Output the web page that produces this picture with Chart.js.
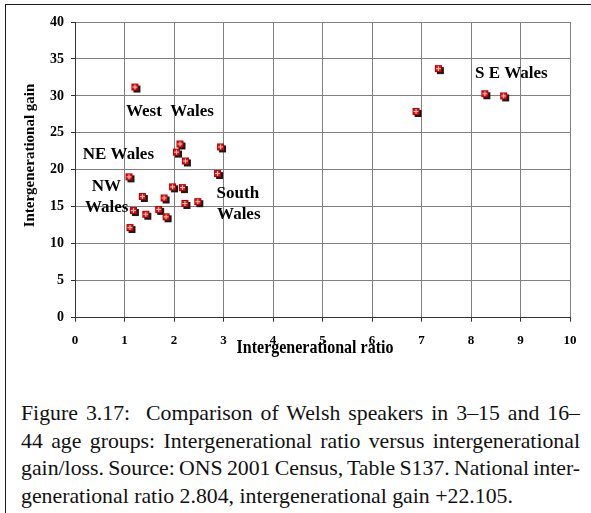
<!DOCTYPE html>
<html><head><meta charset="utf-8">
<script src="https://cdn.jsdelivr.net/npm/chart.js@4.4.1/dist/chart.umd.min.js"></script>
<style>
html,body{margin:0;padding:0;background:#fff;}
#wrap{position:relative;width:591px;height:513px;overflow:hidden;background:#fff;}
#frame{position:absolute;left:5px;top:4px;width:600px;height:600px;border-top:1px solid #1a1a1a;border-left:1px solid #1a1a1a;}
#cv{position:absolute;left:0;top:0;width:591px;height:370px;}
#cap{position:absolute;left:21px;top:400.4px;width:559px;font-family:"Liberation Serif",serif;font-size:21.8px;line-height:27.5px;color:#111;}
#cap div{text-align:justify;text-align-last:justify;word-spacing:-3px;}
#cap div.last{text-align-last:left;word-spacing:0;}
</style></head>
<body><div id="wrap"><div id="frame"></div><div id="cv"><canvas id="c"></canvas></div>
<div id="cap">
<div>Figure 3.17:&nbsp; Comparison of Welsh speakers in 3–15 and 16–</div>
<div>44 age groups: Intergenerational ratio versus intergenerational</div>
<div>gain/loss. Source: ONS 2001 Census, Table S137. National inter-</div>
<div class="last">generational ratio 2.804, intergenerational gain +22.105.</div>
</div></div>
<script>
// Data
const ratioValues = [1.21, 2.12, 2.05, 2.23, 2.94, 2.88, 1.09, 1.36, 1.18, 1.43, 1.11, 1.69, 1.84, 1.80, 1.97, 2.17, 2.22, 2.48, 7.34, 6.89, 8.28, 8.66];
const gainValues  = [31.2, 23.5, 22.4, 21.2, 23.1, 19.5, 19.05, 16.4, 14.5, 14.0, 12.2, 14.65, 13.65, 16.2, 17.7, 17.6, 15.45, 15.7, 33.7, 27.9, 30.3, 30.0];
const xTickValues = [0,1,2,3,4,5,6,7,8,9,10];
const yTickValues = [0,5,10,15,20,25,30,35,40];
const xTitle = 'Intergenerational ratio';
const yTitle = 'Intergenerational gain';
const regionNames = ['West  Wales', 'NE Wales', 'NW', 'Wales', 'South', 'Wales', 'S E Wales'];
const regionX = [1.03, 0.156, 0.337, 0.20, 2.86, 2.87, 8.08];
const regionY = [27.84, 22.03, 17.7, 14.86, 16.81, 14.01, 33.03];

// marker: red square with white cross and dark shadow
const mk = document.createElement('canvas');
mk.width = 13; mk.height = 13;
(function(){
  const g = mk.getContext('2d');
  g.fillStyle = '#1a1a1a';
  g.fillRect(5, 5, 7, 7);
  g.fillStyle = '#f01010';
  g.fillRect(3, 3, 7, 7);
  g.strokeStyle = '#b00000';
  g.lineWidth = 1;
  g.strokeRect(3.5, 3.5, 6, 6);
  g.strokeStyle = 'rgba(255,210,210,0.95)';
  g.beginPath();
  g.moveTo(6.5, 4); g.lineTo(6.5, 9);
  g.moveTo(4, 6.5); g.lineTo(9, 6.5);
  g.stroke();
})();

const points = ratioValues.map((v, i) => ({x: v, y: gainValues[i]}));

const annotatePlugin = {
  id: 'annot',
  afterDraw(chart) {
    const {ctx} = chart;
    const xs = chart.scales.x, ys = chart.scales.y;
    ctx.save();
    ctx.fillStyle = '#000';
    ctx.font = 'bold 17px "Liberation Serif"';
    ctx.textBaseline = 'middle';
    ctx.textAlign = 'left';
    regionNames.forEach((t, i) => ctx.fillText(t, xs.getPixelForValue(regionX[i]), ys.getPixelForValue(regionY[i])));
    ctx.save();
    ctx.font = 'bold 16px "Liberation Serif"';
    ctx.textAlign = 'center';
    ctx.textBaseline = 'alphabetic';
    ctx.translate(315, 353);
    ctx.scale(1, 1.18);
    ctx.fillText(xTitle, 0, 0);
    ctx.restore();
    ctx.translate(30.5, 155.5);
    ctx.rotate(-Math.PI / 2);
    ctx.font = 'bold 15px "Liberation Serif"';
    ctx.textAlign = 'center';
    ctx.textBaseline = 'middle';
    ctx.fillText(yTitle, 0, 0);
    ctx.restore();
  }
};

const tickFont = size => ({family: '"Liberation Serif"', size: size, weight: 'bold'});

new Chart(document.getElementById('c'), {
  type: 'scatter',
  data: {datasets: [{data: points, pointStyle: mk, pointRadius: 6.5, pointHoverRadius: 6.5}]},
  options: {
    animation: false, responsive: true, maintainAspectRatio: false, events: [],
    layout: {padding: {top: 22, right: 21, left: 0, bottom: 0}},
    plugins: {legend: {display: false}, tooltip: {enabled: false}},
    scales: {
      x: {
        type: 'linear', min: 0, max: 10,
        afterBuildTicks: s => { s.ticks = xTickValues.map(v => ({value: v})); },
        ticks: {padding: 11, font: tickFont(13), color: '#000', maxRotation: 0, autoSkip: false},
        grid: {color: '#808080', lineWidth: 1, tickLength: 4, tickColor: '#333'},
        border: {color: '#333', width: 1},
        afterFit: s => { s.height = 52.3; }
      },
      y: {
        type: 'linear', min: 0, max: 40,
        afterBuildTicks: s => { s.ticks = yTickValues.map(v => ({value: v})); },
        ticks: {padding: 7, font: tickFont(14), color: '#000', autoSkip: false},
        grid: {color: '#808080', lineWidth: 1, tickLength: 4, tickColor: '#333'},
        border: {color: '#333', width: 1},
        afterFit: s => { s.width = 75; }
      }
    }
  },
  plugins: [annotatePlugin]
});
</script>
</body></html>
